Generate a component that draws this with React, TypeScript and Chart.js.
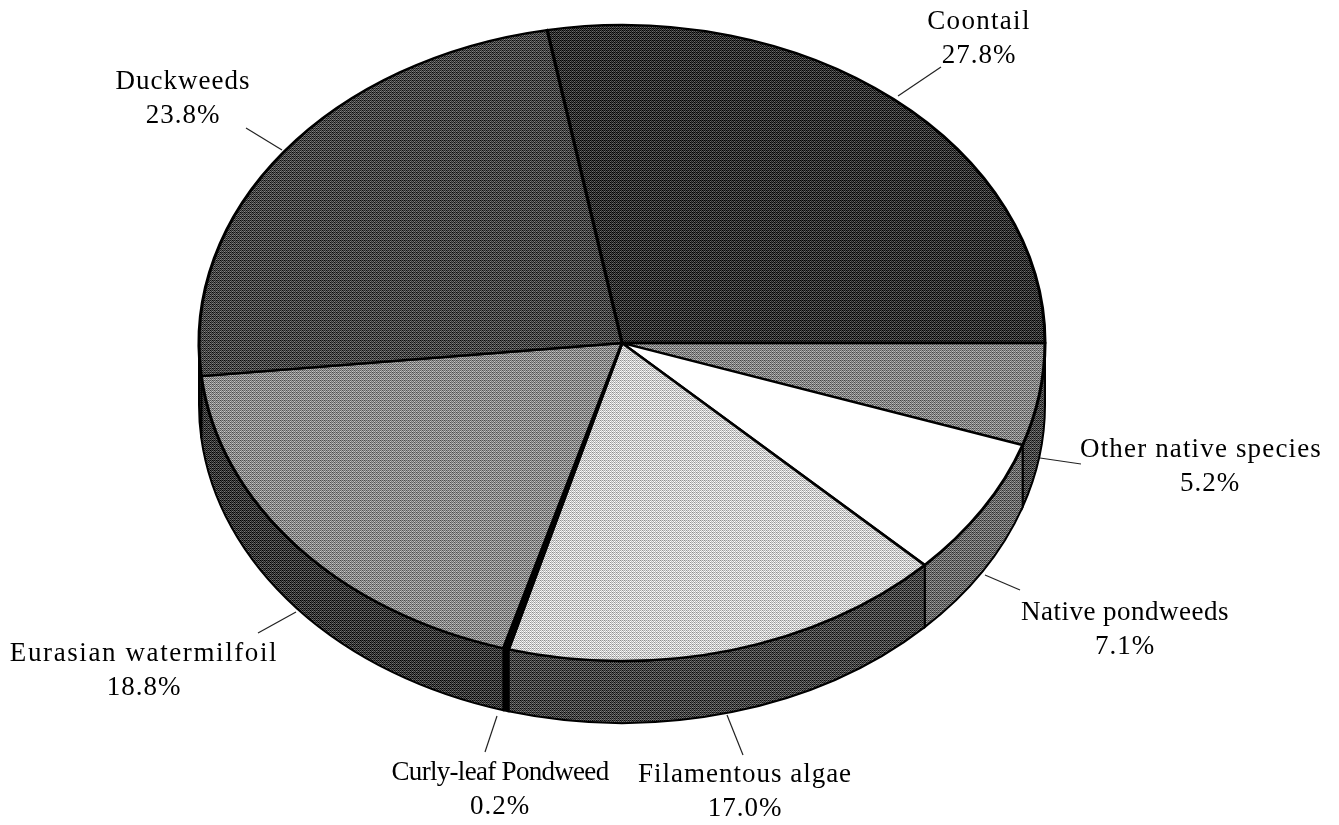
import React, { useEffect, useRef } from "react";
import { Chart, registerables } from "chart.js";

Chart.register(...registerables);

const categories = [
  "Coontail",
  "Other native species",
  "Native pondweeds",
  "Filamentous algae",
  "Curly-leaf Pondweed",
  "Eurasian watermilfoil",
  "Duckweeds",
];
const shares = [27.8, 5.2, 7.1, 17.0, 0.2, 18.8, 23.8];
const faceGrays = [48, 132, 255, 205, 0, 138, 70];
const wallGrays = [48, 70, 105, 68, 0, 55, 55];
const nameCenters = [
  [979, 22], [1201, 450], [1125, 613], [745, 775], [500, 773], [144, 654], [183, 82],
];
const valueCenterX = [979, 1210, 1125, 745, 500, 144, 183];
const nameSpacing = [1.3, 1.15, 0.5, 1.0, -0.7, 1.6, 1.0];
const leaderLines = [
  [898, 96, 941, 67], [1040, 458, 1081, 464], [985, 575, 1020, 590], [727, 715, 743, 755],
  [497, 716, 485, 752], [296, 612, 258, 633], [282, 150, 246, 128],
];

const PIE = { cx: 622, cy: 343, rx: 423, ry: 318, depth: 62 };
const FONT = '27px "Liberation Serif"';
const BAYER = [
  [0, 8, 2, 10],
  [12, 4, 14, 6],
  [3, 11, 1, 9],
  [15, 7, 13, 5],
];

function dither(gray: number): CanvasPattern {
  const tile = document.createElement("canvas");
  tile.width = 4;
  tile.height = 4;
  const c = tile.getContext("2d")!;
  const solid = gray === 0 || gray === 255;
  for (let y = 0; y < 4; y++) {
    for (let x = 0; x < 4; x++) {
      const v = solid ? gray : Math.max(0, Math.min(255, Math.round(gray + (BAYER[y][x] / 15 - 0.5) * 130)));
      c.fillStyle = `rgb(${v},${v},${v})`;
      c.fillRect(x, y, 1, 1);
    }
  }
  return c.createPattern(tile, "repeat")!;
}

export default function App() {
  const ref = useRef<HTMLCanvasElement>(null);
  useEffect(() => {
    document.body.style.margin = "0";
    document.body.style.background = "#fff";
    const facePatterns = faceGrays.map(dither);
    const wallPatterns = wallGrays.map(dither);

    const pie3d = {
      id: "pie3d",
      beforeDatasetsDraw(chart: any) {
        const ctx = chart.ctx;
        const arcs = chart.getDatasetMeta(0).data;
        // side wall, using the arcs' own angles
        arcs.forEach((arc: any, i: number) => {
          const twoPi = Math.PI * 2;
          for (const shift of [0, -twoPi, twoPi]) {
            const a0 = Math.max(arc.startAngle + shift, 0);
            const a1 = Math.min(arc.endAngle + shift, Math.PI);
            if (a1 <= a0) continue;
            ctx.save();
            ctx.beginPath();
            ctx.ellipse(PIE.cx, PIE.cy, PIE.rx, PIE.ry, 0, a0, a1);
            ctx.ellipse(PIE.cx, PIE.cy + PIE.depth, PIE.rx, PIE.ry, 0, a1, a0, true);
            ctx.closePath();
            ctx.fillStyle = wallPatterns[i];
            ctx.fill();
            ctx.lineWidth = 2;
            ctx.strokeStyle = "#000";
            ctx.stroke();
            ctx.restore();
          }
        });
        // squash the library's circular pie into the tilted top face
        const first = arcs[0];
        ctx.save();
        ctx.translate(PIE.cx, PIE.cy);
        ctx.scale(PIE.rx / first.outerRadius, PIE.ry / first.outerRadius);
        ctx.translate(-first.x, -first.y);
        const inv = ctx.getTransform().inverse();
        facePatterns.forEach((p: any) => p.setTransform(inv));
      },
      afterDatasetsDraw(chart: any) {
        chart.ctx.restore();
      },
      afterDraw(chart: any) {
        const ctx = chart.ctx;
        ctx.save();
        ctx.strokeStyle = "#222";
        ctx.lineWidth = 1.2;
        leaderLines.forEach(([x0, y0, x1, y1]) => {
          ctx.beginPath();
          ctx.moveTo(x0, y0);
          ctx.lineTo(x1, y1);
          ctx.stroke();
        });
        ctx.fillStyle = "#000";
        ctx.font = FONT;
        ctx.textAlign = "center";
        ctx.textBaseline = "middle";
        categories.forEach((name, i) => {
          const [x, y] = nameCenters[i];
          (ctx as any).letterSpacing = nameSpacing[i] + "px";
          ctx.fillText(name, x, y);
          (ctx as any).letterSpacing = "1px";
          ctx.fillText(shares[i].toFixed(1) + "%", valueCenterX[i], y + 34);
        });
        ctx.restore();
      },
    };

    const chart = new Chart(ref.current!, {
      type: "pie",
      data: {
        labels: categories,
        datasets: [
          {
            data: shares,
            backgroundColor: facePatterns as any,
            borderColor: "#000",
            borderWidth: 3,
            borderJoinStyle: "round",
          },
        ],
      },
      options: {
        responsive: false,
        animation: false,
        events: [],
        rotation: -10.2,
        layout: { padding: 0 },
        plugins: { legend: { display: false }, tooltip: { enabled: false } },
      },
      plugins: [pie3d],
    } as any);
    return () => chart.destroy();
  }, []);
  return (
    <canvas
      ref={ref}
      width={1339}
      height={825}
      style={{ display: "block", width: 1339, height: 825 }}
    />
  );
}
